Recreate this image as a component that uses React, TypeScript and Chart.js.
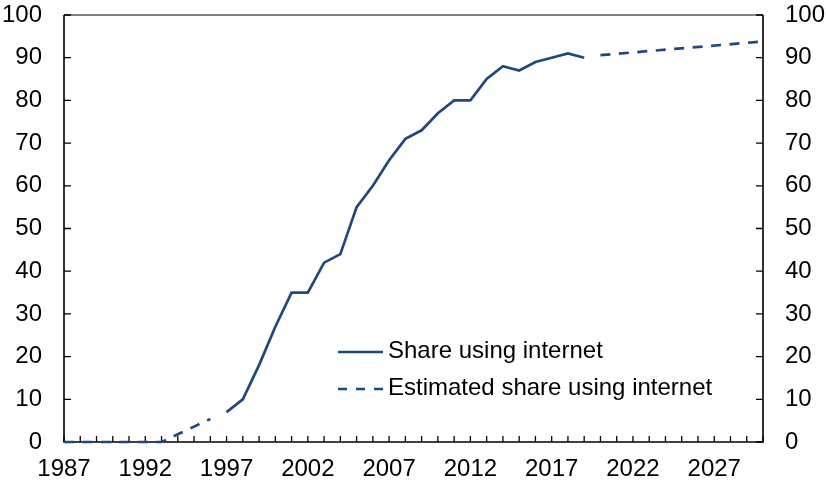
import React, { useEffect, useRef } from "react";
import { Chart, registerables } from "chart.js";

Chart.register(...registerables);

// ---- Data ----
const SHARE_YEARS = [1997, 1998, 1999, 2000, 2001, 2002, 2003, 2004, 2005, 2006, 2007, 2008, 2009, 2010, 2011, 2012, 2013, 2014, 2015, 2016, 2017, 2018, 2019];
const SHARE_VALUES = [7, 10, 18, 27, 35, 35, 42, 44, 55, 60, 66, 71, 73, 77, 80, 80, 85, 88, 87, 89, 90, 91, 90];

const EST_EARLY_YEARS = [1987, 1988, 1989, 1990, 1991, 1992, 1993, 1994, 1995, 1996];
const EST_EARLY_VALUES = [0, 0, 0, 0, 0, 0, 0, 1.8, 3.6, 5.4];

const EST_LATE_YEARS = [2020, 2030];
const EST_LATE_VALUES = [90.6, 93.8];

const X_MIN = 1987;
const X_MAX = 2030;
const X_LABEL_STEP = 5;
const Y_TICKS = [0, 10, 20, 30, 40, 50, 60, 70, 80, 90, 100];

const LEGEND_LABELS = ["Share using internet", "Estimated share using internet"];

const BLUE = "#1F497D";
const FONT = "'Liberation Sans', Arial, sans-serif";
const TICK_FONT_SIZE = 24;
const LEGEND_FONT_SIZE = 24;

export default function App() {
  const ref = useRef<HTMLCanvasElement | null>(null);

  useEffect(() => {
    if (!ref.current) return;

    const shareData = SHARE_YEARS.map((x, i) => ({ x, y: SHARE_VALUES[i] }));
    const estData: { x: number; y: number | null }[] = [
      ...EST_EARLY_YEARS.map((x, i) => ({ x, y: EST_EARLY_VALUES[i] })),
      { x: (EST_EARLY_YEARS[EST_EARLY_YEARS.length - 1] + EST_LATE_YEARS[0]) / 2, y: null },
      ...EST_LATE_YEARS.map((x, i) => ({ x, y: EST_LATE_VALUES[i] })),
    ];

    const framePlugin = {
      id: "frame",
      beforeDatasetsDraw(chart: any) {
        const { ctx, chartArea, scales } = chart;
        const { left, right, top, bottom } = chartArea;
        ctx.save();
        // top border (grey)
        ctx.strokeStyle = "#595959";
        ctx.lineWidth = 1.5;
        ctx.beginPath();
        ctx.moveTo(left, top);
        ctx.lineTo(right, top);
        ctx.stroke();
        // axes
        ctx.strokeStyle = "#000";
        ctx.lineWidth = 1.6;
        ctx.beginPath();
        ctx.moveTo(left, top);
        ctx.lineTo(left, bottom);
        ctx.lineTo(right, bottom);
        ctx.lineTo(right, top);
        ctx.stroke();
        // tick marks (inward)
        ctx.lineWidth = 1.3;
        ctx.beginPath();
        for (const v of Y_TICKS) {
          const y = scales.y.getPixelForValue(v);
          ctx.moveTo(left, y);
          ctx.lineTo(left + 7, y);
          ctx.moveTo(right, y);
          ctx.lineTo(right - 7, y);
        }
        for (let yr = X_MIN; yr <= X_MAX; yr++) {
          const x = scales.x.getPixelForValue(yr);
          ctx.moveTo(x, bottom);
          ctx.lineTo(x, bottom - 6);
        }
        ctx.stroke();
        ctx.restore();
      },
      afterDraw(chart: any) {
        const { ctx, chartArea } = chart;
        const { left, bottom } = chartArea;
        ctx.save();
        // legend
        const lx0 = left + 274;
        const lx1 = lx0 + 45;
        const ty = [bottom - 91, bottom - 54];
        ctx.strokeStyle = BLUE;
        ctx.lineWidth = 2.5;
        ctx.beginPath();
        ctx.moveTo(lx0, ty[0] + 1);
        ctx.lineTo(lx1, ty[0] + 1);
        ctx.stroke();
        ctx.setLineDash([9, 9]);
        ctx.beginPath();
        ctx.moveTo(lx0, ty[1] + 1);
        ctx.lineTo(lx1, ty[1] + 1);
        ctx.stroke();
        ctx.setLineDash([]);
        ctx.fillStyle = "#000";
        ctx.font = `${LEGEND_FONT_SIZE}px ${FONT}`;
        ctx.textAlign = "left";
        ctx.textBaseline = "middle";
        ctx.fillText(LEGEND_LABELS[0], lx1 + 5, ty[0]);
        ctx.fillText(LEGEND_LABELS[1], lx1 + 5, ty[1]);
        ctx.restore();
      },
    };

    const tickFont = { family: FONT, size: TICK_FONT_SIZE };
    const noPadV = (s: any, w: number) => { s.width = w; s.paddingTop = 0; s.paddingBottom = 0; };

    const chart = new Chart(ref.current, {
      type: "line",
      data: {
        datasets: [
          {
            label: LEGEND_LABELS[0],
            data: shareData,
            borderColor: BLUE,
            borderWidth: 2.7,
            pointRadius: 0,
            tension: 0,
            fill: false,
            clip: false,
          },
          {
            label: LEGEND_LABELS[1],
            data: estData,
            borderColor: BLUE,
            borderWidth: 2.7,
            borderDash: [10, 8.5],
            pointRadius: 0,
            tension: 0,
            spanGaps: false,
            fill: false,
            clip: false,
          },
        ],
      },
      options: {
        responsive: false,
        animation: false,
        layout: { padding: { top: 15, left: 0, right: 0, bottom: 0 } },
        plugins: { legend: { display: false }, tooltip: { enabled: false } },
        scales: {
          x: {
            type: "linear",
            min: X_MIN,
            max: X_MAX,
            grid: { display: false, drawTicks: false },
            border: { display: false },
            afterFit: (s: any) => { s.height = 42; s.paddingLeft = 0; s.paddingRight = 0; },
            ticks: {
              stepSize: 1,
              autoSkip: false,
              maxRotation: 0,
              minRotation: 0,
              padding: 13,
              color: "#000",
              font: tickFont,
              callback: (v: any) => ((Number(v) - X_MIN) % X_LABEL_STEP === 0 && Number(v) < X_MAX ? String(v) : ""),
            },
          },
          y: {
            position: "left",
            min: 0,
            max: 100,
            grid: { display: false, drawTicks: false },
            border: { display: false },
            afterFit: (s: any) => noPadV(s, 64),
            ticks: { stepSize: 10, padding: 22, color: "#000", font: tickFont },
          },
          y2: {
            position: "right",
            min: 0,
            max: 100,
            grid: { display: false, drawTicks: false },
            border: { display: false },
            afterFit: (s: any) => noPadV(s, 63),
            ticks: { stepSize: 10, padding: 22, color: "#000", font: tickFont },
          },
        },
      },
      plugins: [framePlugin],
    });

    return () => chart.destroy();
  }, []);

  return (
    <div style={{ position: "absolute", left: 0, top: 0, width: 826, height: 484, background: "#fff" }}>
      <canvas ref={ref} width={826} height={484} style={{ display: "block" }} />
    </div>
  );
}
